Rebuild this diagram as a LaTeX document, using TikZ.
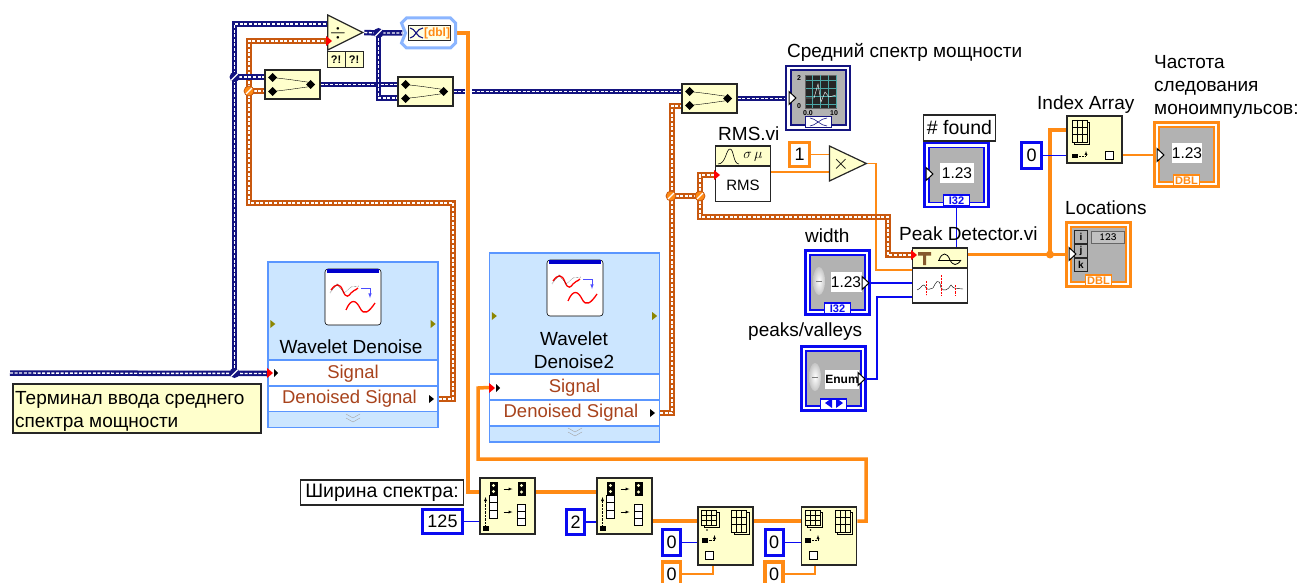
\documentclass[tikz,border=0pt]{standalone}
\usepackage{fontspec}
\setmainfont{Liberation Sans}
\usetikzlibrary{positioning,calc,shapes.geometric}
\definecolor{WireNavy}{HTML}{141480}
\definecolor{WireBrown}{HTML}{C8580F}
\definecolor{WireOrange}{HTML}{FF8A14}
\definecolor{PanelBlue}{HTML}{0A0AF0}
\definecolor{PanelGray}{HTML}{B2B2B2}
\definecolor{NoteYellow}{HTML}{FFFFCC}
\definecolor{ExpressBlue}{HTML}{CCE6FF}
\definecolor{ExpressEdge}{HTML}{5A96FF}
\definecolor{TextBrown}{HTML}{A8431C}
\pgfdeclarelayer{wires}
\pgfsetlayers{wires,main}
\newcommand{\txtsize}[1]{\fontsize{#1}{#1}\selectfont}
\newcommand{\tinydia}[2]{\fill (#1,#2) +(-4.5,0) -- +(0,-4.5) -- +(4.5,0) -- +(0,4.5) -- cycle;}
\newcommand{\bundleicon}[1]{%
  \begin{scope}[shift={(#1.center)}]
    \tinydia{-20}{-7}\tinydia{-20}{7}\tinydia{18}{0}
    \draw[thin] (-20,-7) -- (-3,-5) -- (18,-2);
    \draw[thin] (-20,7) -- (-3,5) -- (18,2);
  \end{scope}}
\newcommand{\subseticon}[1]{%
  \begin{scope}[shift={(#1.center)}]
    \fill (-18,-24) rectangle (-10,-11);
    \fill[NoteYellow] (-14,-20.5) circle (1.6) (-14,-14.5) circle (1.6);
    \draw[fill=white,thin] (-18,-11) rectangle (-10,-3.5) (-18,-3.5) rectangle (-10,4) (-18,4) rectangle (-10,12);
    \fill (10,-24) rectangle (18,-10);
    \fill[NoteYellow] (14,-20.5) circle (1.6) (14,-14) circle (1.6);
    \draw[fill=white,thin] (10,-2) rectangle (18,5) (10,5) rectangle (18,12) (10,12) rectangle (18,19);
    \draw[-latex,thin] (-4,-17) -- (5,-17);
    \draw[-latex,thin] (-4,6) -- (5,6);
    \fill (-25,20) rectangle (-19,25);
    \draw[densely dotted,thin,-latex] (-22,19) -- (-22,-9);
  \end{scope}}
\newcommand{\gridicon}[4]{% x y w h
  \draw[thin,fill=NoteYellow] (#1+2.5,#2+2.5) rectangle +(#3,#4);
  \draw[thin,fill=NoteYellow] (#1,#2) rectangle +(#3,#4);
  \foreach \cut in {1,2} {
    \draw[thin] (#1+\cut*#3/3,#2) -- +(0,#4);
    \draw[thin] (#1,#2+\cut*#4/3) -- +(#3,0);
  }}
\newcommand{\reshapeicon}[1]{%
  \begin{scope}[shift={(#1.center)}]
    \gridicon{-24}{-26}{15}{15}
    \gridicon{6}{-26}{15}{22}
    \fill (-18.5,-6) circle (.8);
    \fill (-24,2) rectangle (-18,6.5);
    \draw[densely dotted,thin] (-17,4) -- (-11,4);
    \draw[thin,-latex] (-11,4) -- (-11,-1);
    \draw[fill=white,semithick] (-20,15) rectangle (-12,23);
  \end{scope}}
\newcommand{\panelbox}[4]{% name, centre, colour, tab width
  \node[panelouter,draw=#3] (#1) at (#2) {};
  \node[panelinner,draw=#3] (#1in) at (#1.center) {};
  \node[paneltab,draw=#3,text=#3,minimum width=#4pt] (#1tab) at ($(#1.south)+(0,-7.5)$) {};}
\newcommand{\termtri}[2]{\draw[fill=white,line width=1pt] (#1,#2) +(-3,-6.5) -- +(4,0) -- +(-3,6.5) -- cycle;}
\newcommand{\spinner}[2]{\shade[inner color=white,outer color=PanelGray!75] (#1,#2) ellipse (6 and 14);
  \draw[PanelGray!70!black,thin] (#1-3,#2) -- (#1+3,#2);}
\newcommand{\pinmark}[2]{%
  \fill[red] (#1-1,#2-5) -- (#1+5,#2) -- (#1-1,#2+5) -- cycle;}
\newcommand{\expressicon}[1]{%
  \begin{scope}[shift={(#1.center)}]
    \draw[semithick,fill=white,rounded corners=3pt] (-28,-28) rectangle (28,28);
    \fill[blue!80!black] (-26,-28) rectangle (26,-24);
    \draw[red,line width=1.3pt] (-22,-7) .. controls (-17,-14) and (-13,-14) .. (-10,-6) .. controls (-7,2) and (-4,-1) .. (-2,-4) .. controls (0,-7) and (2,-6) .. (5,-9);
    \draw[densely dotted,thin] (-23,-4) -- (-16,-13) -- (-9,-4) -- (-2,-10) -- (6,-11);
    \draw[blue!70,semithick,-latex] (8,-9) -- (17,-9) -- (17,1);
    \draw[red,line width=1.3pt] (-7,13) .. controls (-2,1) and (3,3) .. (7,11) .. controls (11,19) and (16,15) .. (22,6);
  \end{scope}}
\newcommand{\sidemarks}[2]{%
  \fill[olive] (#1.west |- 0,#2) +(3,-4) -- +(8,0) -- +(3,4) -- cycle;
  \fill[olive] (#1.east |- 0,#2) +(-8,-4) -- +(-3,0) -- +(-8,4) -- cycle;}
\newcommand{\chevrons}[2]{%
  \draw[gray!70,thin] (#1-7,#2-3) -- (#1,#2+1) -- (#1+7,#2-3) (#1-7,#2+1) -- (#1,#2+5) -- (#1+7,#2+1);}
\begin{document}
\begin{tikzpicture}[
  x=1pt, y=-1pt,
  lbl/.style={font=\txtsize{19}, inner sep=0pt, anchor=west, align=left},
  yelbox/.style={draw=black!85, line width=1.6pt, fill=NoteYellow, inner sep=0pt},
  bundlebox/.style={yelbox, minimum width=55pt, minimum height=29pt},
  subsetbox/.style={yelbox, minimum width=55pt, minimum height=56pt},
  gridbox/.style={yelbox, minimum width=55pt, minimum height=58pt},
  constblue/.style={draw=PanelBlue, line width=3pt, fill=white, inner sep=0pt, font=\txtsize{18}},
  constorange/.style={draw=WireOrange, line width=3.5pt, fill=white, inner sep=0pt, font=\txtsize{18}},
  panelouter/.style={line width=2.5pt, fill=white, minimum width=64pt, minimum height=64pt, inner sep=0pt},
  panelinner/.style={line width=1.8pt, fill=PanelGray, minimum width=55pt, minimum height=55pt, inner sep=0pt},
  paneltab/.style={line width=1.8pt, fill=white, minimum height=11pt, inner sep=0pt},
  tabtext/.style={font=\bfseries\txtsize{11}, inner sep=0pt},
  valbox/.style={fill=white, inner sep=0pt, font=\txtsize{15.5}},
  expressbox/.style={draw=ExpressEdge, line width=1.3pt, fill=ExpressBlue, minimum width=170pt, inner sep=0pt},
  exprow/.style={draw=ExpressEdge, line width=1.3pt, fill=white, minimum width=170pt, minimum height=26pt, inner sep=0pt, text=TextBrown, font=\txtsize{18.5}},
  tri/.style={isosceles triangle, isosceles triangle stretches, draw=black!85, line width=1.2pt, fill=NoteYellow, inner sep=0pt},
  navywire/.style={preaction={draw=WireNavy, line width=5.5pt}, draw=white, line width=1.4pt, dash pattern=on 3pt off 1.6pt},
  brownwire/.style={preaction={draw=WireBrown, line width=5.5pt}, draw=white, line width=1.4pt, dash pattern=on 3pt off 1.6pt},
  orangewire/.style={draw=WireOrange, line width=3.5pt},
  orangethin/.style={draw=WireOrange, line width=1.5pt},
  bluethin/.style={draw=PanelBlue, line width=1.5pt},
  jnavy/.style={circle, fill=WireNavy, minimum size=10pt, inner sep=0pt, path picture={\draw[white,line width=1.2pt] (path picture bounding box.south west) -- (path picture bounding box.north east);}},
  jbrown/.style={circle, fill=WireOrange, draw=WireBrown, line width=.8pt, minimum size=10pt, inner sep=0pt, path picture={\draw[white,line width=1.2pt] (path picture bounding box.south west) -- (path picture bounding box.north east);}},
  jorange/.style={circle, fill=WireOrange, minimum size=8pt, inner sep=0pt}
]
\useasboundingbox (0,0) rectangle (1299,583);

\node[tri, minimum width=35pt, minimum height=35pt] (divide) at (338.5,32.5) {};
\node[inner sep=0pt, font=\txtsize{20}] (divsign) at (338,33) {$\div$};
\node[yelbox, line width=1pt, minimum width=18pt, minimum height=16pt, font=\bfseries\txtsize{11}] (qmarka) at (336,60) {?!};
\node[yelbox, line width=1pt, minimum width=18pt, minimum height=16pt, font=\bfseries\txtsize{11}] (qmarkb) at (354,60) {?!};

\node[bundlebox] (bund1) at (292.5,84.5) {};
\node[bundlebox] (bund2) at (425.5,91.5) {};
\node[bundlebox] (bund3) at (709.5,98.5) {};
\bundleicon{bund1}
\bundleicon{bund2}
\bundleicon{bund3}

\node[minimum width=52pt, minimum height=29pt, inner sep=0pt] (dynconv) at (428.5,33) {};
\draw[draw=ExpressEdge!70, line width=3pt, fill=white, shift={(dynconv.center)}] (-27,-10) -- (-22,-15) -- (22,-15) -- (27,-10) -- (27,10) -- (22,15) -- (-22,15) -- (-27,10) -- (-23,0) -- cycle;
\node[draw=black!85, line width=1pt, minimum width=42pt, minimum height=15pt, inner sep=0pt, fill=NoteYellow!50] (dyninner) at (429,33) {};
\draw[WireNavy, line width=1.1pt] (410,28) .. controls (415,28) and (417,38) .. (423,38) (410,38) .. controls (415,38) and (417,28) .. (423,28);
\node[text=WireOrange, inner sep=0pt, font=\bfseries\txtsize{12}] (dyntext) at (437,33) {[dbl]};

\node[expressbox, minimum height=98pt] (wd1) at (353,311) {};
\node[exprow] (wd1sig) at (353,373.5) {Signal};
\node[exprow] (wd1den) at (353,399) {\kern-7pt Denoised Signal};
\node[expressbox, minimum height=16pt] (wd1foot) at (353,419.5) {};
\node[inner sep=0pt, minimum size=56pt] (wd1icon) at (353,297) {};
\expressicon{wd1icon}
\sidemarks{wd1}{324}
\chevrons{353}{417}
\node[font=\txtsize{19}, inner sep=0pt] (wd1name) at (351,347) {Wavelet Denoise};

\node[expressbox, minimum height=121pt] (wd2) at (574.5,313.5) {};
\node[exprow] (wd2sig) at (574.5,387.5) {Signal};
\node[exprow] (wd2den) at (574.5,413) {\kern-7pt Denoised Signal};
\node[expressbox, minimum height=16pt] (wd2foot) at (574.5,434) {};
\node[inner sep=0pt, minimum size=56pt] (wd2icon) at (575,288) {};
\expressicon{wd2icon}
\sidemarks{wd2}{316}
\chevrons{575}{431}
\node[font=\txtsize{19}, inner sep=0pt, align=center] (wd2name) at (574,350) {Wavelet\\[4pt]Denoise2};

\node[yelbox, minimum width=248pt, minimum height=49pt] (note) at (137,408.5) {};
\node[lbl] (notetext) at (15,411) {Терминал ввода среднего\\[4pt]спектра мощности};

\node[lbl] (specname) at (787,52) {Средний спектр мощности};
\node[draw=WireNavy, line width=2.2pt, fill=white, minimum size=64pt, inner sep=0pt] (spec) at (818,98) {};
\node[draw=WireNavy, line width=2pt, fill=PanelGray, minimum size=55pt, inner sep=0pt] (specin) at (818,98) {};
\node[draw=black!60, fill=black!85, minimum width=31pt, minimum height=33pt, inner sep=0pt] (specplot) at (821,91.5) {};
\foreach \cut in {0,1,2,3} {
  \draw[teal!70, thin] (805.5,80+\cut*8) -- +(31,0);
  \draw[teal!70, thin] (812+\cut*8,75) -- +(0,33);
}
\draw[white, thin] (806,98) -- (814,98) -- (818,84) -- (821,102) -- (825,92) -- (829,97) -- (836,95);
\node[inner sep=0pt, font=\bfseries\txtsize{7}] (specy) at (799,78) {2};
\node[inner sep=0pt, font=\bfseries\txtsize{7}] (specz) at (799,106) {0};
\node[inner sep=0pt, font=\bfseries\txtsize{7}] (specxa) at (808,113) {0.0};
\node[inner sep=0pt, font=\bfseries\txtsize{7}] (specxb) at (834,113) {10};
\node[draw=WireNavy, line width=1.8pt, fill=white, minimum width=26pt, minimum height=11pt, inner sep=0pt] (spectab) at (818.5,122) {};
\draw[WireNavy, semithick] (810,118) .. controls (815,118) and (821,126) .. (827,126) (810,126) .. controls (815,126) and (821,118) .. (827,118);
\termtri{792}{98}

\node[lbl] (rmsname) at (718,134) {RMS.vi};
\node[draw=black!85, line width=1.5pt, fill=white, minimum width=55pt, minimum height=55pt, inner sep=0pt] (rms) at (743,174) {};
\node[yelbox, line width=1.5pt, minimum width=55pt, minimum height=20pt] (rmshead) at (743,156) {};
\node[inner sep=0pt, font=\txtsize{15}] (rmstext) at (743,185) {RMS};
\draw[semithick] (718,164) .. controls (726,164) and (726,149) .. (730,149) .. controls (734,149) and (733,164) .. (739,164);
\node[inner sep=0pt, font=\txtsize{15}] (rmssigma) at (753,157) {$\sigma\,\mu$};

\node[constorange, minimum width=20pt, minimum height=24pt] (cone) at (799.5,154.5) {1};
\node[tri, minimum width=35pt, minimum height=37pt] (mult) at (840.5,163.5) {};
\node[inner sep=0pt, font=\bfseries\txtsize{20}] (multsign) at (841,164) {$\times$};

\node[draw=black!85, line width=1.4pt, fill=white, minimum width=72pt, minimum height=26pt, inner sep=0pt, font=\txtsize{19.5}] (foundname) at (959.5,128) {\# found};
\panelbox{found}{956.5,175}{PanelBlue}{26}
\node[tabtext, text=PanelBlue] (foundi) at (foundtab.center) {I32};
\node[valbox, minimum width=34pt, minimum height=20pt] (foundval) at (957,173) {1.23};
\termtri{929}{174}

\node[lbl] (widthname) at (805,236) {width};
\panelbox{width}{837.5,282.5}{PanelBlue}{26}
\node[tabtext, text=PanelBlue] (widthi) at (widthtab.center) {I32};
\spinner{819}{281}
\node[valbox, minimum width=31pt, minimum height=20pt] (widthval) at (846,282) {1.23};
\termtri{865}{283}

\node[lbl] (peaksname) at (748,332) {peaks/valleys};
\panelbox{peaks}{833.5,378.5}{PanelBlue}{26}
\spinner{815}{377}
\fill[PanelBlue] (832,398) -- (825,403) -- (832,408) -- cycle (836,398) -- (843,403) -- (836,408) -- cycle;
\node[valbox, font=\bfseries\txtsize{12}, minimum width=31pt, minimum height=19pt] (peaksval) at (842,379) {Enum};
\termtri{861}{379}

\node[lbl] (detname) at (899,234) {Peak Detector.vi};
\node[draw=black!85, line width=1.5pt, fill=white, minimum width=55pt, minimum height=55pt, inner sep=0pt] (det) at (940,275.5) {};
\node[yelbox, line width=1.5pt, minimum width=55pt, minimum height=20pt] (dethead) at (940,258) {};
\fill[brown!70!black] (918,252) rectangle (931,255.5) (923,255) rectangle (926,265);
\draw[semithick] (938,260) -- (961,260);
\draw[thick] (939,260) .. controls (942,252) and (947,252) .. (950,260) .. controls (953,266) and (957,266) .. (961,260);
\draw[thin] (917,290) .. controls (921,290) and (923,280) .. (926,288) .. controls (929,291) and (930,288) .. (933,288) .. controls (935,284) and (939,275) .. (941,288) .. controls (944,292) and (948,290) .. (951,285) .. controls (954,290) and (957,288) .. (963,289);
\draw[red,densely dotted,thin] (926,281) -- (926,295) (941,275) -- (941,295) (955,285) -- (955,295);

\node[lbl] (idxname) at (1037,105) {Index Array};
\node[bundlebox, minimum height=47pt] (idx) at (1094.5,139.5) {};
\gridicon{1072}{120}{15}{22}
\fill (1072,154) rectangle (1078,158);
\draw[densely dotted,thin] (1079,156) -- (1085,156);
\draw[thin,-latex] (1086,156) -- (1086,151);
\draw[fill=white,semithick] (1105,151) rectangle (1113,159);
\node[constblue, minimum width=20pt, minimum height=26pt] (czero) at (1031.5,155.5) {0};

\node[lbl] (freqname) at (1154,87) {Частота\\[4pt]следования\\[4pt]моноимпульсов:};
\panelbox{freq}{1186.5,154.5}{WireOrange}{26}
\node[tabtext, text=WireOrange] (freqd) at (freqtab.center) {DBL};
\node[valbox, minimum width=30pt, minimum height=20pt] (freqval) at (1187,153) {1.23};
\termtri{1160}{155}

\node[lbl] (locname) at (1065,208) {Locations};
\panelbox{loc}{1098.5,254.5}{WireOrange}{26}
\node[tabtext, text=WireOrange] (locd) at (loctab.center) {DBL};
\node[draw=black!85, thick, fill=PanelGray, minimum width=13pt, minimum height=13pt, inner sep=0pt, font=\bfseries\txtsize{10}] (loci) at (1081,237) {i};
\node[draw=black!85, thick, fill=PanelGray, minimum width=13pt, minimum height=13pt, inner sep=0pt, font=\bfseries\txtsize{10}] (locj) at (1081,251) {j};
\node[draw=black!85, thick, fill=PanelGray, minimum width=13pt, minimum height=13pt, inner sep=0pt, font=\bfseries\txtsize{10}] (lock) at (1081,265) {k};
\node[draw=black!60, fill=PanelGray!80, minimum width=33pt, minimum height=12pt, inner sep=0pt, font=\bfseries\ttfamily\txtsize{11}] (locnum) at (1108,237) {123};
\termtri{1072}{254}

\node[draw=black!85, line width=1.3pt, fill=white, minimum width=163pt, minimum height=25pt, inner sep=0pt, font=\txtsize{19.5}] (widthspec) at (382,492.5) {Ширина спектра:};
\node[constblue, minimum width=40pt, minimum height=24pt] (cwidth) at (442.5,521.5) {125};
\node[subsetbox] (sub1) at (507.5,506) {};
\subseticon{sub1}
\node[constblue, minimum width=18pt, minimum height=25pt] (ctwo) at (575.5,522) {2};
\node[subsetbox] (sub2) at (624.5,506) {};
\subseticon{sub2}
\node[gridbox] (arr1) at (725.5,536) {};
\reshapeicon{arr1}
\node[gridbox] (arr2) at (829,536) {};
\reshapeicon{arr2}
\node[constblue, minimum width=18pt, minimum height=26pt] (czeroa) at (671.5,542.5) {0};
\node[constorange, minimum width=18pt, minimum height=24pt] (czerob) at (671.5,574) {0};
\node[constblue, minimum width=18pt, minimum height=26pt] (czeroc) at (774,542.5) {0};
\node[constorange, minimum width=18pt, minimum height=24pt] (czerod) at (774,574) {0};

\node[jnavy] (jna) at (234.5,373) {};
\node[jnavy] (jnb) at (234.5,77) {};
\node[jnavy] (jnc) at (378.5,33) {};
\node[jbrown] (jba) at (249,91) {};
\node[jbrown] (jbb) at (671,196) {};
\node[jbrown] (jbc) at (700,196) {};
\node[jorange] (joa) at (1050,254.5) {};

\pinmark{268}{373}
\pinmark{490}{388}
\pinmark{327}{41}
\pinmark{715}{175}
\pinmark{912}{255}
\fill (274,373) +(0,-4) -- +(4,0) -- +(0,4) -- cycle;
\fill (496,388) +(0,-4) -- +(4,0) -- +(0,4) -- cycle;
\fill (429,399) +(0,-4) -- +(5,0) -- +(0,4) -- cycle;
\fill (650,413) +(0,-4) -- +(5,0) -- +(0,4) -- cycle;

\coordinate (siginleft) at (10,373);
\coordinate (divtop) at (327,24);
\coordinate (divlow) at (327,41);
\coordinate (gapleft) at (465,91.5);
\coordinate (gapright) at (472,91.5);
\coordinate (specpin) at (789,98.5);

\begin{pgfonlayer}{wires}
\draw[brownwire] (wd1den.east) -- (453,399) -- (453,203) -- (249,203) -- (jba.center) -- (divlow -| jba) -- (divlow);
\draw[brownwire] (jba.center) -- (jba -| bund1.west);
\draw[navywire] (siginleft) -- (wd1sig.west);
\draw[navywire] (jna.center) -- (jnb.center) -- (divtop -| jnb) -- (divtop);
\draw[navywire] (jnb.center) -- (jnb -| bund1.west);
\draw[navywire] (bund1.east) -- (bund1.east -| bund2.west);
\draw[navywire] (divide.apex) -- (jnc.center) -- (dynconv.west);
\draw[navywire] (jnc.center) -- (378.5,98) -- (bund2.west |- 0,98);
\draw[navywire] (bund2.east) -- (gapleft);
\draw[navywire] (gapright) -- (gapright -| bund3.west);
\draw[navywire] (bund3.east) -- (specpin);
\draw[brownwire] (wd2den.east) -- (672,413) -- (672,106) -- (bund3.west |- 0,106);
\draw[brownwire] (jbb.center) -- (jbc.center);
\draw[brownwire] (jbc.center) -- (700,175) -- (rms.west |- 0,175);
\draw[orangethin] (mult.apex) -- (876,163.5) -- (876,270) -- (det.west |- 0,270);
\draw[brownwire] (jbc.center) -- (700,217) -- (888,217) -- (888,255) -- (det.west |- 0,255);
\draw[orangewire] (dynconv.east) -- (468,33) -- (468,492) -- (sub1.west |- 0,492);
\draw[orangewire] (wd2sig.west) -- (478,388) -- (478,459) -- (866,459) -- (866,521) -- (arr2.east |- 0,521);
\draw[orangewire] (sub1.east |- 0,492) -- (sub2.west |- 0,492);
\draw[orangewire] (sub2.east |- 0,521) -- (arr1.west |- 0,521);
\draw[orangewire] (arr1.east |- 0,521) -- (arr2.west |- 0,521);
\draw[bluethin] (cwidth.east) -- (cwidth.east -| sub1.west);
\draw[bluethin] (ctwo.east) -- (ctwo.east -| sub2.west);
\draw[bluethin] (czeroa.east) -- (czeroa.east -| arr1.west);
\draw[bluethin] (czeroc.east) -- (czeroc.east -| arr2.west);
\draw[orangethin] (czerob.east) -- (713,574) -- (713,565);
\draw[orangethin] (czerod.east) -- (815,574) -- (815,565);
\draw[orangethin] (cone.east) -- (cone.east -| mult.west);
\draw[orangethin] (rms.east |- 0,172) -- (829,172);
\draw[bluethin] (found.south) -- (found.south |- det.north);
\draw[bluethin] (widthin.east |- 0,283) -- (det.west |- 0,283);
\draw[bluethin] (peaksin.east |- 0,379) -- (877,379) -- (877,297) -- (det.west |- 0,297);
\draw[orangewire] (det.east |- 0,254.5) -- (loc.west |- 0,254.5);
\draw[orangewire] (joa.center) -- (1050,130) -- (idx.west |- 0,130);
\draw[bluethin] (czero.east) -- (czero.east -| idx.west);
\draw[orangethin] (idx.east |- 0,155) -- (freq.west |- 0,155);
\end{pgfonlayer}
\end{tikzpicture}
\end{document}
